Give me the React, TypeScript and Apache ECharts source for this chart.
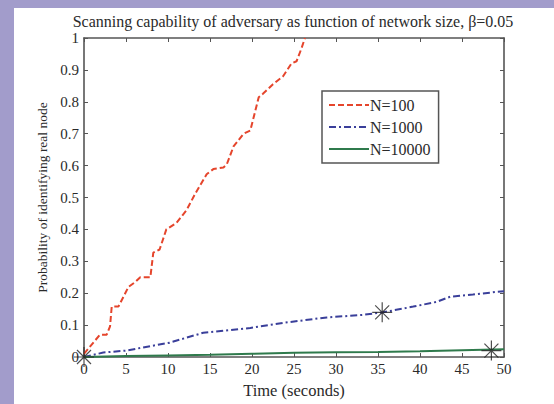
import React, { useEffect, useRef } from "react";
import * as echarts from "echarts";

const titleText = "Scanning capability of adversary as function of network size, β=0.05";
const xName = "Time (seconds)";
const yName = "Probability of identifying real node";
const seriesNames = ["N=100", "N=1000", "N=10000"];

const n100Time = [0, 1.9, 2.7, 3.1, 3.3, 4.1, 5.3, 6.1, 6.7, 7.9, 8.25, 9.0, 9.8, 11.0, 12.2, 13.2, 14.6, 15.4, 16.6, 17.0, 17.8, 19.0, 19.8, 20.8, 21.3, 22.5, 23.7, 24.7, 25.3, 25.9, 26.3];
const n100Prob = [0.01, 0.07, 0.07, 0.096, 0.158, 0.158, 0.22, 0.235, 0.25, 0.25, 0.327, 0.337, 0.4, 0.42, 0.46, 0.51, 0.573, 0.589, 0.594, 0.604, 0.66, 0.7, 0.71, 0.814, 0.825, 0.855, 0.88, 0.92, 0.927, 0.968, 1.0];

const n1000Time = [0, 2.3, 5, 10.2, 14.2, 19.8, 23.7, 28.9, 33.2, 35.6, 39.2, 42.0, 43.6, 46.3, 49.1, 50];
const n1000Prob = [0, 0.014, 0.02, 0.045, 0.076, 0.091, 0.107, 0.124, 0.132, 0.14, 0.158, 0.173, 0.189, 0.196, 0.204, 0.206];

const n10000Time = [0, 5, 10, 15, 20, 25, 30, 35, 40, 45, 50];
const n10000Prob = [0, 0.003, 0.005, 0.007, 0.01, 0.013, 0.015, 0.016, 0.018, 0.021, 0.024];

const markerTime = [0, 35.5, 48.5];
const markerProb = [0, 0.14, 0.02];

const yTicks = [0, 0.1, 0.2, 0.3, 0.4, 0.5, 0.6, 0.7, 0.8, 0.9, 1];

const zip = (a: number[], b: number[]) => a.map((v, i) => [v, b[i]]);

const FONT = "Liberation Serif";
const AXIS = "#555555";
const TXT = "#2a2a2a";

export default function App() {
  const ref = useRef<HTMLDivElement>(null);
  useEffect(() => {
    document.body.style.margin = "0";
    const chart = echarts.init(ref.current!, null, { renderer: "svg" });
    const axisCommon = {
      type: "value" as const,
      axisLine: { show: true, onZero: false, lineStyle: { color: AXIS, width: 1.6 } },
      axisTick: { show: true, inside: true, length: 4, lineStyle: { color: AXIS } },
      splitLine: { show: false },
    };
    const asterisk = "path://M10,0L10,20M0,10L20,10M3,3L17,17M3,17L17,3";
    chart.setOption({
      animation: false,
      backgroundColor: "#ffffff",
      textStyle: { fontFamily: FONT },
      graphic: [
        {
          type: "text",
          x: 279,
          y: 13,
          style: {
            text: titleText,
            align: "center",
            verticalAlign: "middle",
            fontFamily: FONT,
            fontSize: 16,
            fill: TXT,
          },
        },
      ],
      grid: { left: 70, top: 30, width: 420, height: 325, containLabel: false },
      legend: {
        orient: "vertical",
        left: 308,
        top: 83,
        padding: [6, 8, 6, 6],
        itemGap: 6,
        itemWidth: 40,
        itemHeight: 10,
        borderColor: "#555",
        borderWidth: 1.5,
        backgroundColor: "#fff",
        data: seriesNames,
        itemStyle: { opacity: 0 },
        textStyle: { fontFamily: FONT, fontSize: 16, color: TXT, padding: [0, 0, 0, -4] },
      },
      xAxis: [
        {
          ...axisCommon,
          min: 0,
          max: 50,
          interval: 5,
          name: xName,
          nameLocation: "middle",
          nameGap: 25,
          nameTextStyle: { fontFamily: FONT, fontSize: 16.5, color: TXT },
          axisLabel: { fontFamily: FONT, fontSize: 15, color: TXT, margin: 4 },
        },
        {
          ...axisCommon,
          position: "top",
          min: 0,
          max: 50,
          interval: 5,
          axisLabel: { show: false },
        },
      ],
      yAxis: [
        {
          ...axisCommon,
          min: 0,
          max: 1,
          interval: 0.1,
          name: yName,
          nameLocation: "middle",
          nameGap: 28,
          nameTextStyle: { fontFamily: FONT, fontSize: 13.5, color: TXT },
          axisLabel: { fontFamily: FONT, fontSize: 15, color: TXT, margin: 5, lineHeight: 15,
            formatter: (v: number) => { const t = yTicks.find((k) => Math.abs(k - v) < 1e-9); return t === undefined ? "" : String(t); } },
        },
        {
          ...axisCommon,
          position: "right",
          min: 0,
          max: 1,
          interval: 0.1,
          axisLabel: { show: false },
        },
      ],
      series: [
        {
          name: seriesNames[0],
          type: "line",
          data: zip(n100Time, n100Prob),
          showSymbol: false,
          symbol: "none",
          lineStyle: { color: "#e5452c", width: 2, type: [6, 3] },
          itemStyle: { color: "#e5452c" },
        },
        {
          name: seriesNames[1],
          type: "line",
          data: zip(n1000Time, n1000Prob),
          showSymbol: false,
          symbol: "none",
          lineStyle: { color: "#3a3f9a", width: 2, type: [7, 3, 2, 3] },
          itemStyle: { color: "#3a3f9a" },
        },
        {
          name: seriesNames[2],
          type: "line",
          data: zip(n10000Time, n10000Prob),
          showSymbol: false,
          symbol: "none",
          lineStyle: { color: "#2f7a4c", width: 2 },
          itemStyle: { color: "#2f7a4c" },
        },
        {
          type: "scatter",
          data: zip(markerTime, markerProb),
          symbol: asterisk,
          symbolSize: 20,
          itemStyle: { color: "rgba(0,0,0,0)", borderColor: "#222", borderWidth: 1.2 },
          z: 5,
        },
      ],
    });
    return () => chart.dispose();
  }, []);
  return (
    <div style={{ width: 554, height: 404, background: "#a29ccb", position: "relative", overflow: "hidden" }}>
      <div ref={ref} style={{ position: "absolute", left: 14, top: 8, width: 540, height: 396 }} />
    </div>
  );
}
